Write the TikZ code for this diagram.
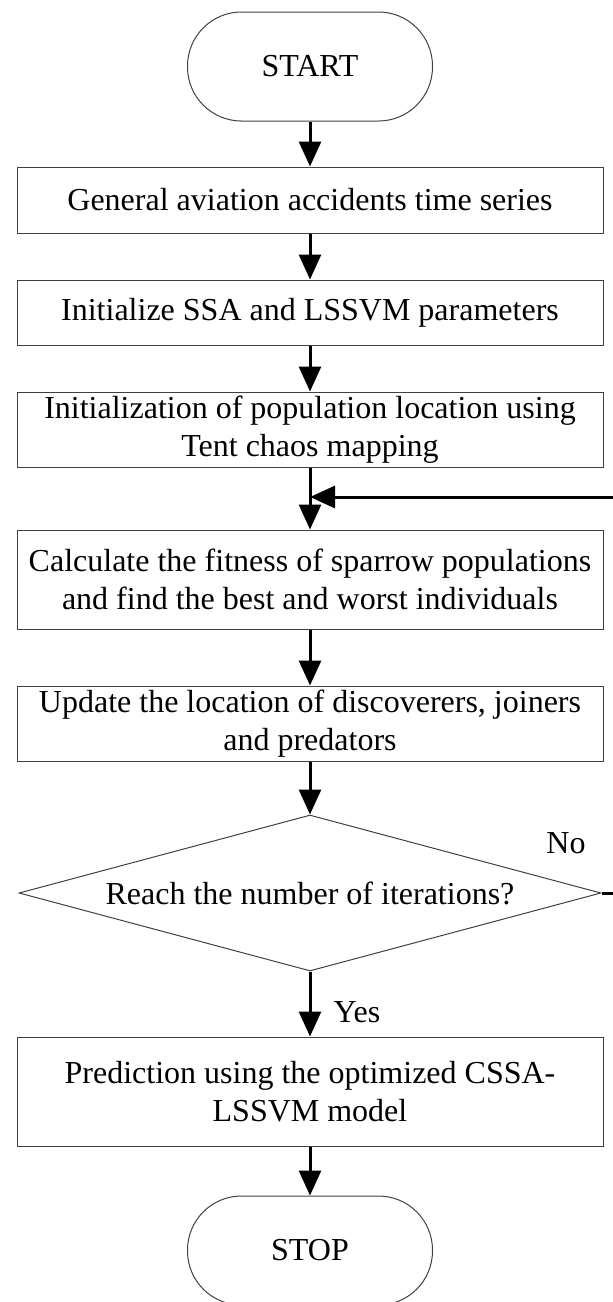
\documentclass[tikz,border=0pt]{standalone}
\usepackage{fontspec}
\setmainfont{Liberation Serif}
\usetikzlibrary{arrows.meta,shapes.geometric}
\begin{document}
\begin{tikzpicture}[x=1pt,y=-1pt,
  txt/.style={font=\fontsize{32}{38}\selectfont},
  box/.style={txt, draw=black!75, line width=1pt, rectangle, minimum width=586pt, inner sep=0pt, align=center},
  term/.style={txt, draw=black!75, line width=1pt, rectangle, rounded corners=54pt, minimum width=245pt, minimum height=109pt, inner sep=0pt},
  dia/.style={draw=black!75, line width=1pt, diamond, minimum width=582pt, minimum height=156pt, inner sep=0pt},
  flow/.style={line width=3pt, -{Triangle[width=22pt,length=25pt]}},
  lbl/.style={txt, inner sep=0pt}]
\useasboundingbox (0,0) rectangle (613,1302);
\node[term] (start) at (310,66.5) {START};
\node[box, minimum height=66pt] (b1) at (310,200) {General aviation accidents time series};
\node[box, minimum height=65pt] (b2) at (310,312.5) {Initialize SSA and LSSVM parameters};
\node[box, minimum height=75pt] (b3) at (310,429.5) {Initialization of population location using\\Tent chaos mapping};
\node[box, minimum height=99pt] (b4) at (310,579.5) {Calculate the fitness of sparrow populations\\and find the best and worst individuals};
\node[box, minimum height=75pt] (b5) at (310,723.5) {Update the location of discoverers, joiners\\and predators};
\node[dia] (d) at (310,893) {};
\node[lbl] (dt) at (d.center) {Reach the number of iterations?};
\node[box, minimum height=109pt] (b6) at (310,1091.5) {Prediction using the optimized CSSA-\\LSSVM model};
\node[term] (stop) at (310,1250.5) {STOP};
\node[lbl] (no) at (566,843) {No};
\node[lbl] (yes) at (357,1012) {Yes};
\coordinate (fb) at (310,497);
\coordinate (c1) at (622,893);
\coordinate (c2) at (622,497);
\draw[flow] (start) -- (b1);
\draw[flow] (b1) -- (b2);
\draw[flow] (b2) -- (b3);
\draw[flow] (b3) -- (b4);
\draw[flow] (b4) -- (b5);
\draw[flow] (b5) -- (d);
\draw[flow] (d) -- (b6);
\draw[flow] (b6) -- (stop);
\draw[flow] (d.east) -- (c1) -- (c2) -- (fb);
\end{tikzpicture}
\end{document}
